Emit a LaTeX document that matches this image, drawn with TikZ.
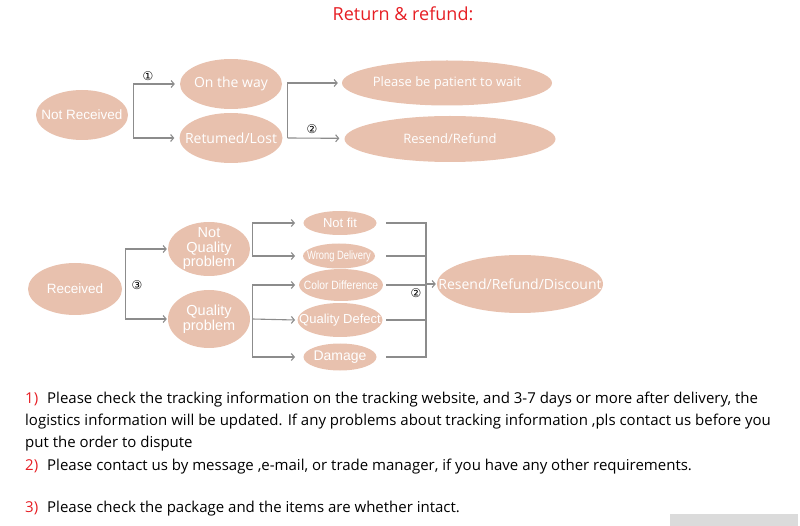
\documentclass[tikz,border=0pt]{standalone}
\usepackage{fontspec}
\setmainfont{Open Sans}
\newfontfamily\arialfont{Liberation Sans}
\newfontfamily\numfont{DejaVu Sans}
\usetikzlibrary{shapes.geometric,arrows.meta}
\definecolor{petal}{RGB}{232,193,174}
\definecolor{wirecol}{RGB}{140,140,140}
\definecolor{titred}{RGB}{230,30,36}
\newcommand{\fs}[1]{\fontsize{#1}{#1}\selectfont}
\begin{document}
\begin{tikzpicture}[x=1pt,y=-1pt,>={Straight Barb[length=3pt,width=7pt]},
  oval/.style={ellipse,fill=petal,inner sep=0pt},
  ovtxt/.style={text=white,align=center,inner sep=0pt},
  wire/.style={draw=wirecol,line width=1.1pt},
  num/.style={font=\numfont\fs{12},inner sep=0pt},
  para/.style={anchor=base west,inner sep=0pt,font=\fs{15}}]
\useasboundingbox (0,0) rectangle (800,526);

\node (title) at (403,14)[text=titred,font=\fs{18}]{Return \& refund:};

% not received
\node (nrec) at (82,115)[oval,minimum width=92,minimum height=50,label={[ovtxt,font=\arialfont\fs{13.5}]center:Not Received}]{};
\node (otw) at (231,84)[oval,minimum width=102,minimum height=50,label={[ovtxt,font=\fs{14}]center:On the way}]{};
\node (rlost) at (231,138)[oval,minimum width=103,minimum height=50,label={[ovtxt,font=\fs{14}]center:Retumed/Lost}]{};
\node (wait) at (447,83)[oval,minimum width=210,minimum height=45,label={[ovtxt,font=\fs{13}]center:Please be patient to wait}]{};
\node (rsrf) at (450,139)[oval,minimum width=211,minimum height=46,label={[ovtxt,font=\fs{13}]center:Resend/Refund}]{};

\draw[wire,->,shorten >=5pt]([xshift=5pt]nrec.east) |- (otw);
\draw[wire,->,shorten >=5pt]([xshift=5pt]nrec.east) |- (rlost);
\node (c1) at (148,76)[num]{①};
\draw[wire,->,shorten >=4pt]([xshift=5pt]rlost.east) |- (wait);
\draw[wire,->,shorten >=5pt]([xshift=5pt]rlost.east) -- (rsrf);
\node (c2a) at (312,129)[num]{②};

% received
\node (rec) at (75,289)[oval,minimum width=94,minimum height=52,label={[ovtxt,font=\arialfont\fs{13.5}]center:Received}]{};
\node (nqp) at (209,249)[oval,minimum width=82,minimum height=54,label={[ovtxt,font=\arialfont\fontsize{14.5}{14.5}\selectfont]center:Not\\Quality\\problem}]{};
\node (qp) at (209,319)[oval,minimum width=82,minimum height=58,label={[ovtxt,font=\arialfont\fontsize{14.5}{15}\selectfont]center:Quality\\problem}]{};
\draw[wire,->,shorten >=1pt]([xshift=3pt]rec.east) |- (nqp);
\draw[wire,->,shorten >=1pt]([xshift=3pt]rec.east) |- (qp);
\node (c3) at (137,285)[num]{③};

\node (nfit) at (340,223)[oval,minimum width=73,minimum height=24,label={[ovtxt,font=\arialfont\fs{13}]center:Not fit}]{};
\node (wdel) at (339,256)[oval,minimum width=72,minimum height=25,label={[ovtxt,font=\arialfont\fs{12}]center:\scalebox{0.78}[1]{Wrong Delivery}}]{};
\node (cdif) at (341,285)[oval,minimum width=84,minimum height=32,label={[ovtxt,font=\arialfont\fs{12}]center:\scalebox{0.86}[1]{Color Difference}}]{};
\node (qdef) at (340,320)[oval,minimum width=85,minimum height=34,label={[ovtxt,font=\arialfont\fs{13}]center:Quality Defect}]{};
\node (dmg) at (340,357)[oval,minimum width=73,minimum height=27,label={[ovtxt,font=\arialfont\fs{14}]center:Damage}]{};
\node (rrd) at (520,284)[oval,minimum width=166,minimum height=58,label={[ovtxt,font=\fs{14}]center:Resend/Refund/Discount}]{};

\coordinate (ax) at (295,0);
\coordinate (lx) at (386,0);
\coordinate (mg) at (426,284);
\draw[wire,->]([xshift=2pt]nqp.east) |- (ax |- nfit);
\draw[wire,->]([xshift=2pt]nqp.east) |- (ax |- wdel);
\draw[wire,->]([xshift=2pt]qp.east) |- (ax |- cdif);
\draw[wire,->]([xshift=2pt]qp.east) -- (ax |- qdef);
\draw[wire,->]([xshift=2pt]qp.east) |- (ax |- dmg);
\draw[wire](lx |- nfit) -| (mg);
\draw[wire](lx |- wdel) -| (mg);
\draw[wire](lx |- cdif) -| (mg);
\draw[wire](lx |- qdef) -| (mg);
\draw[wire](lx |- dmg) -| (mg);
\draw[wire,->,shorten >=1pt](mg) -- (rrd);
\node (c2b) at (416,293)[num]{②};

% notes
\node (l1) at (25,403)[para]{\textcolor{titred}{1)}\hspace{9pt}Please check the tracking information on the tracking website, and 3-7 days or more after delivery, the};
\node (l2) at (25,425)[para]{logistics information will be updated. If any problems about tracking information ,pls contact us before you};
\node (l3) at (25,447)[para]{put the order to dispute};
\node (l4) at (25,470)[para]{\textcolor{titred}{2)}\hspace{9pt}Please contact us by message ,e-mail, or trade manager, if you have any other requirements.};
\node (l5) at (25,512)[para]{\textcolor{titred}{3)}\hspace{9pt}Please check the package and the items are whether intact.};

\fill[gray!28] (670,514) rectangle (798,526);
\end{tikzpicture}
\end{document}
